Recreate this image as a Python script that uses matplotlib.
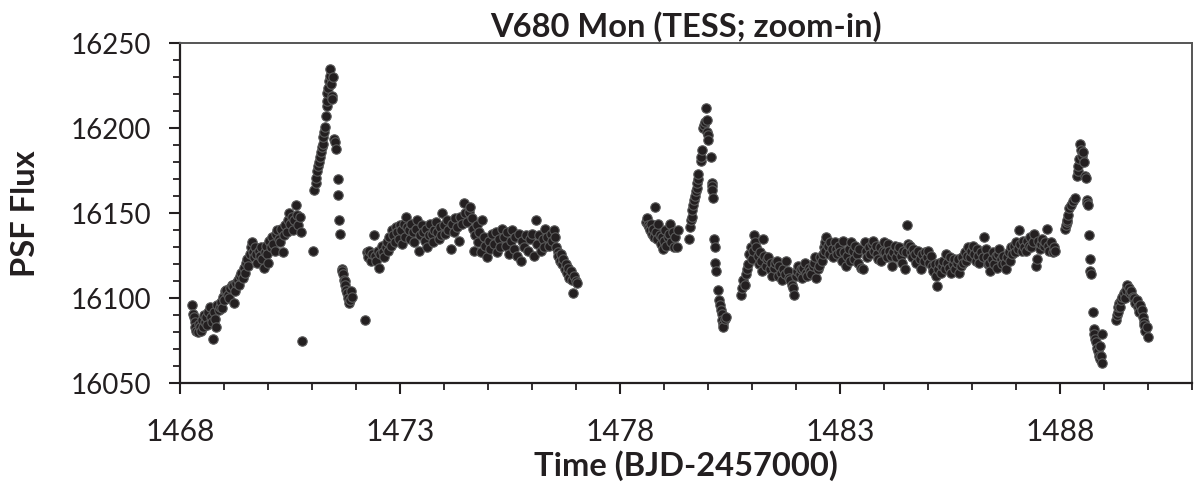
import numpy as np
import matplotlib.pyplot as plt

# light curve, split into stretches
t_a = [1468.28, 1468.29, 1468.31, 1468.33, 1468.35, 1468.37, 1468.40, 1468.42, 1468.45, 1468.48,
       1468.50, 1468.52, 1468.55, 1468.57, 1468.59, 1468.62, 1468.64, 1468.67, 1468.70, 1468.72,
       1468.75, 1468.78, 1468.80, 1468.82, 1468.85, 1468.88, 1468.90, 1468.93, 1468.95, 1468.97,
       1469.00, 1469.03, 1469.05, 1469.08, 1469.11, 1469.14, 1469.17, 1469.20, 1469.22, 1469.25,
       1469.28, 1469.31, 1469.34, 1469.37, 1469.39, 1469.42, 1469.45, 1469.47, 1469.50, 1469.53,
       1469.55, 1469.58, 1469.61, 1469.63, 1469.65, 1469.68, 1469.71, 1469.73, 1469.76, 1469.79,
       1469.81, 1469.84, 1469.87, 1469.90, 1469.92, 1469.95, 1469.98, 1470.00, 1470.03, 1470.06,
       1470.09, 1470.12, 1470.15, 1470.18, 1470.21, 1470.24, 1470.27, 1470.30, 1470.33, 1470.36,
       1470.39, 1470.42, 1470.45, 1470.48, 1470.51, 1470.54, 1470.57, 1470.60, 1470.63, 1470.66,
       1470.69, 1470.72, 1470.75, 1470.78,
       1471.03, 1471.05, 1471.08, 1471.10, 1471.12, 1471.14, 1471.16, 1471.18, 1471.20, 1471.22,
       1471.24, 1471.25, 1471.27, 1471.29, 1471.31, 1471.33, 1471.34, 1471.35, 1471.36, 1471.38,
       1471.40, 1471.41, 1471.43, 1471.45, 1471.46, 1471.48, 1471.50, 1471.52, 1471.55, 1471.58,
       1471.60, 1471.62, 1471.64, 1471.67, 1471.69, 1471.71, 1471.72, 1471.74, 1471.76, 1471.78,
       1471.80, 1471.82, 1471.84, 1471.86, 1471.88, 1471.90]
f_a = [16096, 16091, 16089, 16086, 16083, 16081, 16080, 16085, 16083, 16081,
       16087, 16083, 16090, 16086, 16089, 16084, 16092, 16095, 16089, 16086,
       16076, 16092, 16088, 16083, 16096, 16093, 16095, 16098, 16094, 16101,
       16099, 16104, 16105, 16102, 16100, 16106, 16108, 16107, 16097, 16104,
       16109, 16111, 16108, 16113, 16115, 16112, 16118, 16115, 16121, 16123,
       16119, 16126, 16130, 16133, 16127, 16124, 16130, 16126, 16121, 16128,
       16125, 16130, 16123, 16118, 16127, 16131, 16126, 16121, 16134, 16130,
       16136, 16132, 16128, 16138, 16140, 16135, 16133, 16141, 16127, 16137,
       16143, 16139, 16146, 16150, 16144, 16148, 16140, 16146, 16155, 16149,
       16143, 16148, 16139, 16075,
       16128, 16164, 16168, 16171, 16175, 16178, 16180, 16183, 16186, 16189,
       16191, 16195, 16198, 16201, 16207, 16213, 16216, 16221, 16224, 16228,
       16231, 16235, 16226, 16219, 16217, 16230, 16194, 16192, 16188, 16170,
       16161, 16146, 16138, 16117, 16116, 16114, 16111, 16110, 16108, 16105,
       16103, 16100, 16097, 16099, 16104, 16101]

t_b = [1472.21, 1472.24, 1472.27, 1472.30, 1472.33, 1472.36, 1472.40, 1472.43, 1472.46, 1472.49,
       1472.52, 1472.55, 1472.58, 1472.61, 1472.64, 1472.67, 1472.70, 1472.73, 1472.76, 1472.79,
       1472.82, 1472.85, 1472.88, 1472.91, 1472.94, 1472.97, 1473.00, 1473.03, 1473.05, 1473.08,
       1473.11, 1473.13, 1473.16, 1473.20, 1473.23, 1473.26, 1473.29, 1473.32, 1473.36, 1473.39,
       1473.43, 1473.46, 1473.49, 1473.53, 1473.56, 1473.59, 1473.62, 1473.65, 1473.69, 1473.72,
       1473.75, 1473.78, 1473.81, 1473.84, 1473.88, 1473.91, 1473.94, 1473.96, 1474.00, 1474.03,
       1474.06, 1474.10, 1474.15, 1474.18, 1474.22, 1474.26, 1474.30, 1474.34, 1474.37, 1474.41,
       1474.45, 1474.48, 1474.52, 1474.56, 1474.60, 1474.63, 1474.66, 1474.68, 1474.71, 1474.74,
       1474.77, 1474.80, 1474.83, 1474.87, 1474.90, 1474.94, 1474.98, 1475.02, 1475.05, 1475.09,
       1475.13, 1475.17, 1475.20, 1475.24, 1475.28, 1475.32, 1475.36, 1475.40, 1475.44, 1475.48,
       1475.52, 1475.55, 1475.58, 1475.62, 1475.66, 1475.70, 1475.74, 1475.78, 1475.82, 1475.86,
       1475.90, 1475.95, 1475.99, 1476.04, 1476.08, 1476.12, 1476.16, 1476.20, 1476.24, 1476.28,
       1476.30, 1476.34, 1476.38, 1476.42, 1476.46, 1476.49, 1476.52, 1476.55, 1476.58, 1476.60,
       1476.63, 1476.66, 1476.68, 1476.71, 1476.74, 1476.77, 1476.79, 1476.82, 1476.85, 1476.88,
       1476.91, 1476.93, 1476.96, 1476.99, 1477.02]
f_b = [16087, 16127, 16124, 16128, 16122, 16126, 16137, 16125, 16122, 16128,
       16118, 16126, 16131, 16127, 16124, 16130, 16133, 16128, 16136, 16131,
       16140, 16137, 16133, 16142, 16139, 16135, 16143, 16140, 16132, 16144,
       16136, 16148, 16142, 16140, 16135, 16144, 16139, 16133, 16141, 16146,
       16128, 16137, 16143, 16139, 16134, 16141, 16130, 16137, 16144, 16138,
       16133, 16140, 16145, 16139, 16135, 16142, 16137, 16150, 16143, 16138,
       16146, 16140, 16129, 16144, 16139, 16147, 16142, 16134, 16148, 16144,
       16156, 16150, 16145, 16151, 16154, 16147, 16141, 16128, 16137, 16143,
       16133, 16139, 16127, 16146, 16136, 16131, 16124, 16134, 16129, 16138,
       16132, 16139, 16127, 16135, 16130, 16141, 16136, 16131, 16139, 16126,
       16134, 16140, 16129, 16136, 16125, 16138, 16122, 16134, 16130, 16137,
       16128, 16135, 16138, 16125, 16146, 16132, 16137, 16128, 16135, 16130,
       16141, 16136, 16131, 16138, 16134, 16140, 16136, 16130, 16127, 16125,
       16122, 16126, 16120, 16123, 16117, 16120, 16115, 16118, 16112, 16116,
       16111, 16103, 16113, 16110, 16109]

t_c = [1478.58, 1478.61, 1478.63, 1478.65, 1478.68, 1478.70, 1478.72, 1478.75, 1478.78, 1478.80,
       1478.82, 1478.85, 1478.87, 1478.90, 1478.93, 1478.95, 1478.97, 1479.00, 1479.03, 1479.05,
       1479.08, 1479.11, 1479.14, 1479.17, 1479.20, 1479.23, 1479.26, 1479.29, 1479.31,
       1479.57, 1479.59, 1479.61, 1479.63, 1479.64, 1479.66, 1479.69, 1479.71, 1479.72, 1479.74,
       1479.76, 1479.77, 1479.78, 1479.84, 1479.85, 1479.87, 1479.89, 1479.90, 1479.93, 1479.95,
       1479.97, 1479.98, 1479.99, 1480.01, 1480.06, 1480.08, 1480.09, 1480.10, 1480.12, 1480.14,
       1480.16, 1480.17, 1480.19, 1480.22, 1480.25, 1480.27, 1480.29, 1480.31, 1480.32, 1480.34,
       1480.35, 1480.38, 1480.42]
f_c = [16145, 16147, 16143, 16142, 16140, 16144, 16138, 16141, 16136, 16154,
       16139, 16135, 16144, 16137, 16132, 16136, 16129, 16134, 16140, 16131,
       16136, 16138, 16144, 16133, 16139, 16130, 16136, 16130, 16140,
       16135, 16142, 16146, 16148, 16152, 16155, 16158, 16160, 16163, 16165,
       16168, 16170, 16173, 16181, 16183, 16187, 16200, 16202, 16204, 16212,
       16205, 16198, 16196, 16193, 16183, 16168, 16166, 16164, 16159, 16135,
       16130, 16121, 16116, 16105, 16099, 16096, 16093, 16091, 16087, 16085,
       16083, 16088, 16089]

t_d = [1480.75, 1480.78, 1480.80, 1480.83, 1480.86, 1480.88, 1480.91, 1480.94, 1480.97, 1480.99,
       1481.02, 1481.05, 1481.07, 1481.10, 1481.13, 1481.15, 1481.18, 1481.20, 1481.22, 1481.25,
       1481.28, 1481.31, 1481.34, 1481.37, 1481.40, 1481.43, 1481.46, 1481.49, 1481.52, 1481.56,
       1481.59, 1481.62, 1481.65, 1481.68, 1481.71, 1481.74, 1481.78, 1481.81, 1481.84, 1481.86,
       1481.90, 1481.93, 1481.96, 1481.99, 1482.02, 1482.05, 1482.08, 1482.11, 1482.14, 1482.17,
       1482.20, 1482.23, 1482.26, 1482.29, 1482.32, 1482.35, 1482.38, 1482.40, 1482.43, 1482.46,
       1482.49, 1482.52, 1482.55, 1482.58, 1482.61, 1482.63, 1482.65, 1482.67, 1482.69, 1482.72,
       1482.75, 1482.78, 1482.81, 1482.84, 1482.88, 1482.91, 1482.94, 1482.97, 1483.00, 1483.04,
       1483.07, 1483.10, 1483.14, 1483.17, 1483.20, 1483.23, 1483.26, 1483.29, 1483.32, 1483.35,
       1483.38, 1483.41, 1483.44, 1483.48, 1483.52, 1483.56, 1483.59, 1483.62, 1483.65, 1483.68,
       1483.72, 1483.75, 1483.78, 1483.81, 1483.84, 1483.87, 1483.90, 1483.94, 1483.97, 1484.00,
       1484.03, 1484.06, 1484.09, 1484.12, 1484.15, 1484.18, 1484.21, 1484.24, 1484.28, 1484.31,
       1484.35, 1484.38, 1484.41, 1484.44, 1484.47, 1484.50, 1484.53, 1484.55, 1484.58, 1484.61,
       1484.64, 1484.67, 1484.70, 1484.73, 1484.77, 1484.81, 1484.84, 1484.87, 1484.90, 1484.94,
       1484.97, 1485.00, 1485.03, 1485.06, 1485.09, 1485.12, 1485.15, 1485.18, 1485.20, 1485.23,
       1485.26, 1485.29, 1485.32, 1485.35, 1485.38, 1485.41, 1485.44, 1485.47, 1485.50, 1485.53,
       1485.56, 1485.59, 1485.62, 1485.65, 1485.68, 1485.71, 1485.74, 1485.77, 1485.80, 1485.83,
       1485.86, 1485.89, 1485.92, 1485.95, 1485.98, 1486.02, 1486.05, 1486.08, 1486.11, 1486.14,
       1486.17, 1486.20, 1486.24, 1486.28, 1486.31, 1486.34, 1486.37, 1486.39, 1486.42, 1486.45,
       1486.48, 1486.51, 1486.54, 1486.57, 1486.60, 1486.62, 1486.65, 1486.68, 1486.71, 1486.74,
       1486.77, 1486.80, 1486.83, 1486.86, 1486.89, 1486.92, 1486.95, 1486.98, 1487.01, 1487.04,
       1487.07, 1487.10, 1487.13, 1487.16, 1487.19, 1487.23, 1487.26, 1487.29, 1487.32, 1487.35,
       1487.38, 1487.41, 1487.45, 1487.48, 1487.51, 1487.54, 1487.57, 1487.60, 1487.63, 1487.67,
       1487.70, 1487.73, 1487.76, 1487.79, 1487.83, 1487.86, 1487.89,
       1488.11, 1488.13, 1488.15, 1488.17, 1488.19, 1488.21, 1488.25, 1488.30, 1488.34, 1488.38,
       1488.40, 1488.41, 1488.43, 1488.46, 1488.48, 1488.50, 1488.53, 1488.55, 1488.57, 1488.59,
       1488.61, 1488.62, 1488.64, 1488.66, 1488.68, 1488.69, 1488.70, 1488.75, 1488.77, 1488.78,
       1488.80, 1488.82, 1488.84, 1488.86, 1488.88, 1488.90, 1488.92, 1488.94, 1488.96, 1488.96,
       1489.28, 1489.29, 1489.31, 1489.33, 1489.35, 1489.37, 1489.39, 1489.42, 1489.45, 1489.48,
       1489.50, 1489.53, 1489.56, 1489.59, 1489.62, 1489.65, 1489.68, 1489.71, 1489.74, 1489.77,
       1489.80, 1489.83, 1489.86, 1489.88, 1489.90, 1489.92, 1489.94, 1489.97, 1490.00]
f_d = [16102, 16106, 16111, 16108, 16114, 16117, 16120, 16126, 16130, 16123,
       16128, 16137, 16133, 16130, 16125, 16120, 16127, 16122, 16116, 16135,
       16125, 16119, 16123, 16124, 16117, 16121, 16113, 16118, 16121, 16122,
       16113, 16119, 16115, 16111, 16117, 16114, 16122, 16116, 16112, 16111,
       16108, 16106, 16102, 16113, 16116, 16119, 16114, 16117, 16112, 16118,
       16121, 16115, 16113, 16118, 16116, 16114, 16119, 16121, 16124, 16112,
       16117, 16119, 16124, 16122, 16126, 16130, 16128, 16133, 16136, 16131,
       16126, 16133, 16129, 16124, 16133, 16129, 16126, 16131, 16127, 16122,
       16134, 16127, 16119, 16125, 16129, 16122, 16133, 16128, 16123, 16131,
       16126, 16121, 16129, 16118, 16117, 16133, 16128, 16124, 16130, 16126,
       16132, 16134, 16128, 16131, 16126, 16123, 16130, 16122, 16128, 16133,
       16127, 16124, 16132, 16128, 16125, 16119, 16127, 16131, 16124, 16128,
       16130, 16125, 16121, 16128, 16117, 16127, 16143, 16132, 16131, 16127,
       16124, 16129, 16126, 16121, 16128, 16123, 16117, 16126, 16122, 16127,
       16124, 16128, 16121, 16125, 16119, 16116, 16120, 16113, 16107, 16117,
       16121, 16115, 16119, 16122, 16117, 16126, 16121, 16118, 16124, 16115,
       16120, 16123, 16117, 16121, 16123, 16115, 16119, 16124, 16121, 16127,
       16122, 16125, 16130, 16124, 16128, 16131, 16126, 16122, 16129, 16125,
       16121, 16127, 16124, 16136, 16129, 16124, 16120, 16121, 16116, 16123,
       16127, 16120, 16125, 16118, 16126, 16129, 16123, 16120, 16125, 16121,
       16117, 16124, 16127, 16122, 16130, 16126, 16131, 16127, 16133, 16129,
       16140, 16132, 16128, 16134, 16130, 16128, 16134, 16131, 16136, 16130,
       16133, 16138, 16119, 16123, 16134, 16129, 16132, 16135, 16131, 16133,
       16141, 16131, 16128, 16133, 16127, 16130, 16128,
       16141, 16143, 16145, 16146, 16149, 16153, 16155, 16157, 16159, 16172,
       16175, 16178, 16182, 16191, 16187, 16184, 16186, 16180, 16172, 16171,
       16158, 16156, 16155, 16137, 16123, 16116, 16114, 16092, 16082, 16079,
       16076, 16074, 16071, 16069, 16066, 16064, 16072, 16066, 16062, 16079,
       16087, 16090, 16092, 16095, 16097, 16095, 16099, 16101, 16103, 16100,
       16105, 16108, 16106, 16103, 16104, 16101, 16100, 16097, 16099, 16095,
       16092, 16096, 16093, 16089, 16086, 16084, 16081, 16083, 16077]

time = np.concatenate([t_a, t_b, t_c, t_d])
flux = np.concatenate([f_a, f_b, f_c, f_d])

plt.rcParams['font.family'] = ['Lato', 'DejaVu Sans']
ink = '#231f20'

fig = plt.figure(figsize=[11.94, 4.87], dpi=100)
ax = fig.add_axes([0.1508, 0.213, 0.8475, 0.698])

ax.scatter(time, flux, s=46, facecolor=ink, edgecolor='#5a5a5a', linewidth=0.8, zorder=3)

ax.set_xlim(1468, 1491)
ax.set_ylim(16050, 16250)
ax.set_xticks(np.arange(1468, 1491, 5))
ax.set_xticks(np.arange(1468, 1492, 1), minor=True)
ax.set_yticks(np.arange(16050, 16251, 50))
ax.set_yticks(np.arange(16050, 16251, 10), minor=True)

ax.tick_params(which='major', direction='out', length=8, width=1.5, color=ink,
               labelcolor=ink)
ax.tick_params(which='minor', direction='out', length=5, width=1.3, color=ink)
ax.tick_params(axis='y', which='major', labelsize=20, pad=13)
ax.tick_params(axis='x', which='major', labelsize=21.5, pad=17)
ax.tick_params(top=False, right=False, which='both')

ax.spines['left'].set_linewidth(1.6)
ax.spines['bottom'].set_linewidth(1.6)
ax.spines['left'].set_color(ink)
ax.spines['bottom'].set_color(ink)
ax.spines['top'].set_linewidth(1.4)
ax.spines['right'].set_linewidth(1.4)
ax.spines['top'].set_color('#555555')
ax.spines['right'].set_color('#555555')

ax.set_title('V680 Mon (TESS; zoom-in)', fontsize=23.5, fontweight='bold', color=ink, pad=5)
ax.set_xlabel('Time (BJD-2457000)', fontsize=23.5, fontweight='bold', color=ink, labelpad=3)
ax.set_ylabel('PSF Flux', fontsize=23.5, fontweight='bold', color=ink, labelpad=22)

fig.savefig('out.png', dpi=100)
